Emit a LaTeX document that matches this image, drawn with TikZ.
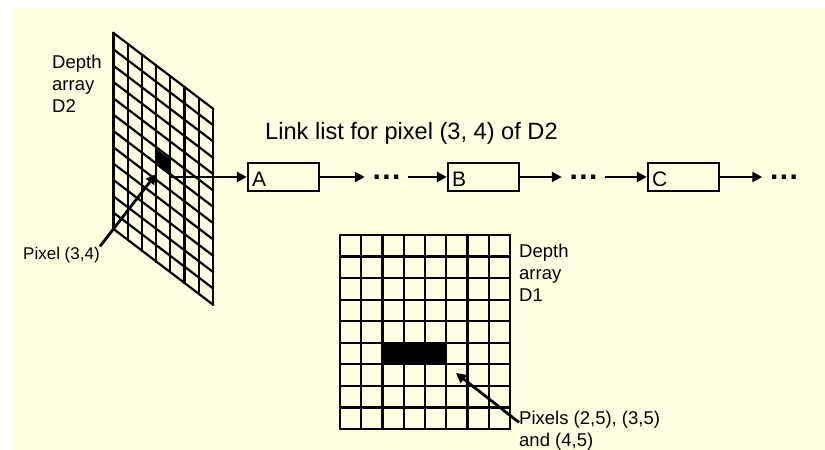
\documentclass[tikz,border=0pt]{standalone}
\usepackage{fontspec}
\setmainfont{Liberation Sans}
\usetikzlibrary{arrows.meta}
\definecolor{paper}{RGB}{255,255,226}

\begin{document}
\begin{tikzpicture}[x=1pt,y=-1pt,
   gridline/.style={line width=2.2pt,line cap=rect},
   listbox/.style={draw,line width=1.9pt,minimum width=71.5pt,minimum height=28pt,text width=63pt,
               align=left,inner xsep=4pt,inner ysep=1.5pt,text height=22pt,text depth=2.5pt,
               font=\fontsize{21}{21}\selectfont},
   lbl/.style={font=\fontsize{18.5}{22}\selectfont,align=left,inner sep=0pt},
   dots/.style={font=\fontsize{30}{30}\selectfont\bfseries,inner xsep=7.5pt,inner ysep=0pt,
               text height=4.3pt,text depth=0pt},
   arr/.style={-{Triangle[length=10pt,width=10pt]},line width=2.8pt}]
  \useasboundingbox (0,0) rectangle (825,450);
  \fill[white] (0,0) rectangle (825,450);
  \fill[paper] (11,8) rectangle (825,450);
  % depth array D2, seen at a slant
  \foreach \i in {0,...,7}
    \draw[gridline] (113.5+14.2*\i,33+10.8*\i) -- ++(0,196);
  \foreach \j in {0,...,12}
    \draw[gridline] (113.5,33+16.33*\j) -- ++(99.4,75.6);
  \fill (156.1,148.7) -- ++(14.2,10.8) -- ++(0,16.33) -- ++(-14.2,-10.8) -- cycle;
  \coordinate (cellD2) at (156,174);
  \coordinate (px) at (170,177);
  \node[lbl,anchor=base west] (dD2) at (52,112) {Depth\\array\\D2};
  \node[lbl,font=\fontsize{17}{20}\selectfont,anchor=base west] (pxD2) at (23,259) {Pixel (3,4)};
  \draw[arr] (pxD2.north east) -- (cellD2);
  % the link list
  \node[font=\fontsize{23.6}{27}\selectfont,anchor=base west,inner sep=0pt] (title) at (265,139)
        {Link list for pixel (3, 4) of D2};
  \node[listbox] (A) at (283.5,177) {A};
  \node[listbox] (B) at (483.5,177) {B};
  \node[listbox] (C) at (683.5,177) {C};
  \node[dots] (d1) at (386.5,177) {.\kern1.5pt.\kern1.5pt.};
  \node[dots] (d2) at (583.5,177) {.\kern1.5pt.\kern1.5pt.};
  \node[dots] (d3) at (784,177) {.\kern1.5pt.\kern1.5pt.};
  \draw[arr] (px) -- (A);
  \draw[arr] (A) -- (d1);
  \draw[arr] (d1) -- (B);
  \draw[arr] (B) -- (d2);
  \draw[arr] (d2) -- (C);
  \draw[arr] (C) -- (d3);
  % depth array D1
  \foreach \i in {0,...,8}
    \draw[gridline] (340+21.25*\i,235) -- ++(0,194);
  \foreach \j in {0,...,9}
    \draw[gridline] (340,235+21.55*\j) -- ++(170,0);
  \fill (382.5,342.75) rectangle ++(63.75,21.55);
  \coordinate (blkD1) at (456,373);
  \node[lbl,anchor=base west] (dD1) at (519,301) {Depth\\array\\D1};
  \node[lbl,anchor=base west] (pxD1) at (519,446) {Pixels (2,5), (3,5)\\and (4,5)};
  \draw[arr] ([yshift=-12pt]pxD1.north west) -- (blkD1);
\end{tikzpicture}
\end{document}
